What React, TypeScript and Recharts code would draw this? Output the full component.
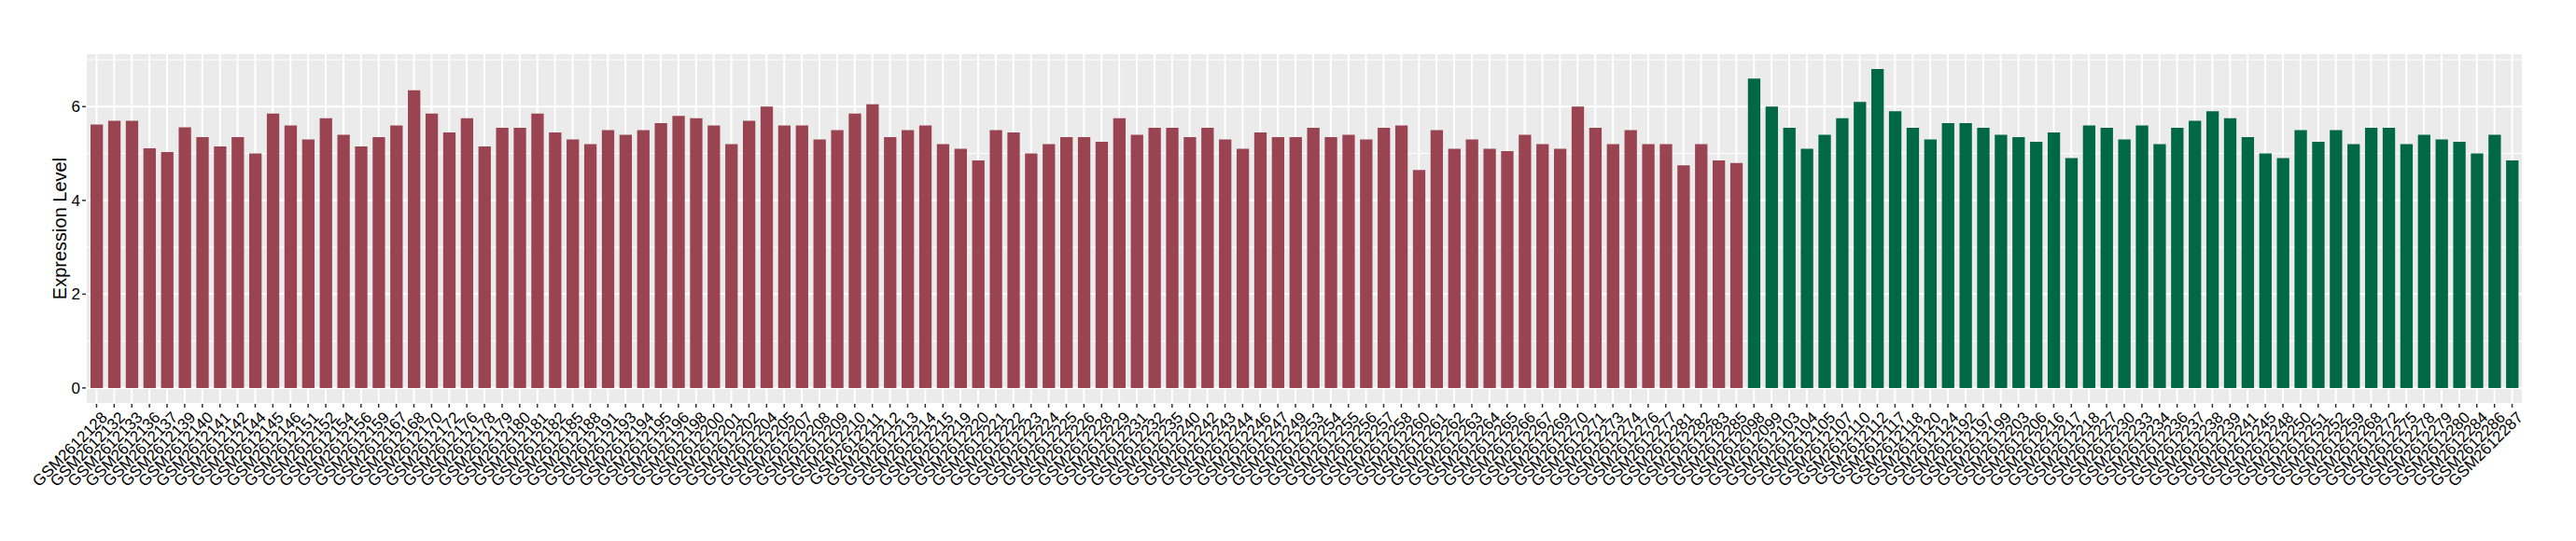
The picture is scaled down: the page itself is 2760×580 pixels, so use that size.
import React from 'react';
import { BarChart, Bar, XAxis, YAxis, CartesianGrid, Cell } from 'recharts';

// sample ids, split by group (red = first group, green = second)
const redSamples = [
  'GSM2612128', 'GSM2612132', 'GSM2612133', 'GSM2612136', 'GSM2612137', 'GSM2612139', 'GSM2612140', 'GSM2612141',
  'GSM2612142', 'GSM2612144', 'GSM2612145', 'GSM2612146', 'GSM2612151', 'GSM2612152', 'GSM2612154', 'GSM2612156',
  'GSM2612159', 'GSM2612167', 'GSM2612168', 'GSM2612170', 'GSM2612172', 'GSM2612176', 'GSM2612178', 'GSM2612179',
  'GSM2612180', 'GSM2612181', 'GSM2612182', 'GSM2612185', 'GSM2612188', 'GSM2612191', 'GSM2612193', 'GSM2612194',
  'GSM2612195', 'GSM2612196', 'GSM2612198', 'GSM2612200', 'GSM2612201', 'GSM2612202', 'GSM2612204', 'GSM2612205',
  'GSM2612207', 'GSM2612208', 'GSM2612209', 'GSM2612210', 'GSM2612211', 'GSM2612212', 'GSM2612213', 'GSM2612214',
  'GSM2612215', 'GSM2612219', 'GSM2612220', 'GSM2612221', 'GSM2612222', 'GSM2612223', 'GSM2612224', 'GSM2612225',
  'GSM2612226', 'GSM2612228', 'GSM2612229', 'GSM2612231', 'GSM2612232', 'GSM2612235', 'GSM2612240', 'GSM2612242',
  'GSM2612243', 'GSM2612244', 'GSM2612246', 'GSM2612247', 'GSM2612249', 'GSM2612253', 'GSM2612254', 'GSM2612255',
  'GSM2612256', 'GSM2612257', 'GSM2612258', 'GSM2612260', 'GSM2612261', 'GSM2612262', 'GSM2612263', 'GSM2612264',
  'GSM2612265', 'GSM2612266', 'GSM2612267', 'GSM2612269', 'GSM2612270', 'GSM2612271', 'GSM2612273', 'GSM2612274',
  'GSM2612276', 'GSM2612277', 'GSM2612281', 'GSM2612282', 'GSM2612283', 'GSM2612285',
];

const redValues = [
  5.62, 5.70, 5.70, 5.11, 5.03, 5.56, 5.35, 5.15, 5.35, 5.00, 5.85, 5.60, 5.30, 5.75, 5.40, 5.15,
  5.35, 5.60, 6.35, 5.85, 5.45, 5.75, 5.15, 5.55, 5.55, 5.85, 5.45, 5.30, 5.20, 5.50, 5.40, 5.50,
  5.65, 5.80, 5.75, 5.60, 5.20, 5.70, 6.00, 5.60, 5.60, 5.30, 5.50, 5.85, 6.05, 5.35, 5.50, 5.60,
  5.20, 5.10, 4.85, 5.50, 5.45, 5.00, 5.20, 5.35, 5.35, 5.25, 5.75, 5.40, 5.55, 5.55, 5.35, 5.55,
  5.30, 5.10, 5.45, 5.35, 5.35, 5.55, 5.35, 5.40, 5.30, 5.55, 5.60, 4.65, 5.50, 5.10, 5.30, 5.10,
  5.05, 5.40, 5.20, 5.10, 6.00, 5.55, 5.20, 5.50, 5.20, 5.20, 4.75, 5.20, 4.85, 4.80,
];

const greenSamples = [
  'GSM2612098', 'GSM2612099', 'GSM2612103', 'GSM2612104', 'GSM2612105', 'GSM2612107', 'GSM2612110', 'GSM2612112',
  'GSM2612117', 'GSM2612118', 'GSM2612120', 'GSM2612124', 'GSM2612192', 'GSM2612197', 'GSM2612199', 'GSM2612203',
  'GSM2612206', 'GSM2612216', 'GSM2612217', 'GSM2612218', 'GSM2612227', 'GSM2612230', 'GSM2612233', 'GSM2612234',
  'GSM2612236', 'GSM2612237', 'GSM2612238', 'GSM2612239', 'GSM2612241', 'GSM2612245', 'GSM2612248', 'GSM2612250',
  'GSM2612251', 'GSM2612252', 'GSM2612259', 'GSM2612268', 'GSM2612272', 'GSM2612275', 'GSM2612278', 'GSM2612279',
  'GSM2612280', 'GSM2612284', 'GSM2612286', 'GSM2612287',
];

const greenValues = [
  6.60, 6.00, 5.55, 5.10, 5.40, 5.75, 6.10, 6.80, 5.90, 5.55, 5.30, 5.65, 5.65, 5.55, 5.40, 5.35,
  5.25, 5.45, 4.90, 5.60, 5.55, 5.30, 5.60, 5.20, 5.55, 5.70, 5.90, 5.75, 5.35, 5.00, 4.90, 5.50,
  5.25, 5.50, 5.20, 5.55, 5.55, 5.20, 5.40, 5.30, 5.25, 5.00, 5.40, 4.85,
];

const yTicks = [0, 2, 4, 6];
const yMinorTicks = [1, 3, 5, 7];

const RED = '#9A4452';
const GREEN = '#006844';
const FONT = '"Liberation Sans", Arial, Helvetica, sans-serif';

const data = [
  ...redSamples.map((name, i) => ({ name, value: redValues[i], group: 'red' })),
  ...greenSamples.map((name, i) => ({ name, value: greenValues[i], group: 'green' })),
];

// ggplot-style 5% expansion around [0, max]
const yMax = Math.max(...data.map((d) => d.value));
const yDomain = [-yMax * 0.05, yMax * 1.05];

const SampleTick = (props: any) => {
  const { x, y, payload } = props;
  return (
    <g transform={`translate(${x + 4},${y + 1})`}>
      <text transform="rotate(-45)" textAnchor="end" dy="0.71em" fontSize={17} fill="#000" fontFamily={FONT}>
        {payload.value}
      </text>
    </g>
  );
};

const App: React.FC = () => {
  return (
    <div style={{ position: 'absolute', left: 0, top: 0, width: 2760, height: 580, background: '#fff' }}>
      <BarChart
        width={2760}
        height={580}
        data={data}
        margin={{ top: 57, right: 57, left: 0, bottom: 0 }}
        barSize={13.3}
      >
        {/* panel background + major grid */}
        <CartesianGrid fill="#EBEBEB" fillOpacity={1} stroke="#FFFFFF" strokeWidth={2} />
        {/* minor horizontal grid */}
        <CartesianGrid
          vertical={false}
          horizontalValues={yMinorTicks}
          stroke="#FFFFFF"
          strokeWidth={1}
          fill="none"
        />
        <XAxis
          dataKey="name"
          interval={0}
          axisLine={false}
          tickSize={4}
          tickMargin={2}
          tickLine={{ stroke: '#333333', strokeWidth: 1.5 }}
          tick={<SampleTick />}
          height={147}
          padding={{ left: 2, right: 2 }}
        />
        <YAxis
          type="number"
          domain={yDomain}
          allowDataOverflow
          ticks={yTicks}
          width={92}
          axisLine={false}
          tickSize={4}
          tickMargin={2}
          tickLine={{ stroke: '#333333', strokeWidth: 1.5 }}
          tick={{ fill: '#000', fontSize: 17, fontFamily: FONT }}
          label={{
            value: 'Expression Level',
            angle: -90,
            position: 'insideLeft',
            offset: 64,
            style: { textAnchor: 'middle', fill: '#000', fontSize: 20, fontFamily: FONT },
          }}
        />
        <Bar dataKey="value" isAnimationActive={false}>
          {data.map((d) => (
            <Cell key={d.name} fill={d.group === 'red' ? RED : GREEN} />
          ))}
        </Bar>
      </BarChart>
    </div>
  );
};

export default App;
